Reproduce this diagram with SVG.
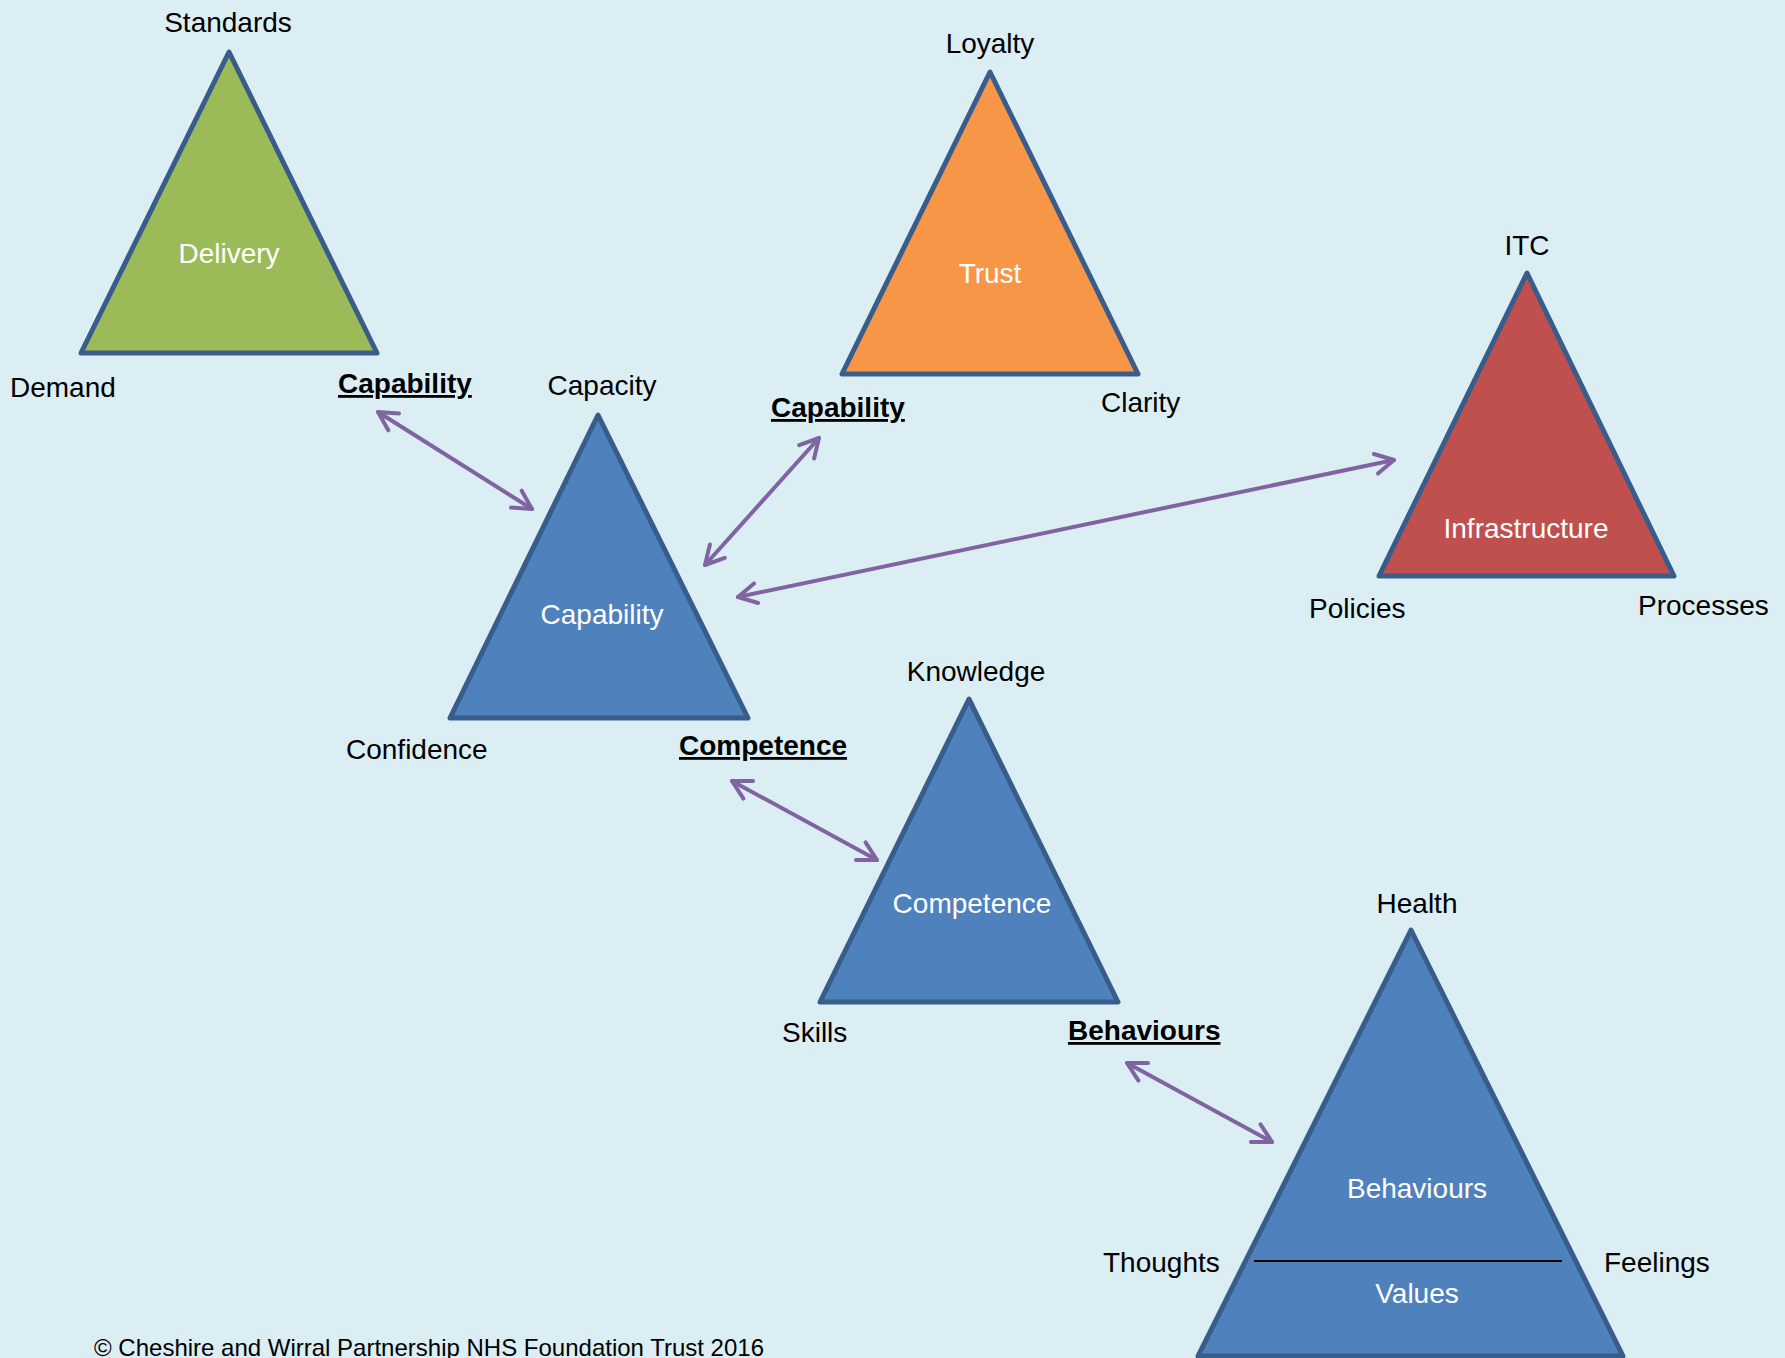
<svg xmlns="http://www.w3.org/2000/svg" width="1785" height="1358" viewBox="0 0 1785 1358">
  <defs>
    <style>
      .bg { fill: #dbeef4; }
      .tri { stroke: #385d8a; stroke-width: 5; stroke-linejoin: round; }
      .green { fill: #9bbb59; }
      .orange { fill: #f79646; }
      .red { fill: #c0504d; }
      .blue { fill: #4f81bd; }
      text { font-family: "Liberation Sans", Arial, sans-serif; font-size: 28px; fill: #000000; }
      .inner { fill: #ffffff; text-anchor: middle; }
      .top { text-anchor: middle; }
      .link { font-weight: bold; text-decoration: underline; }
      .copy { font-size: 24px; }
      .conn { fill: none; stroke: #8064a2; stroke-width: 4; stroke-linecap: round; }
      .divider { stroke: #000000; stroke-width: 2; }
    </style>
    <marker id="head" markerUnits="userSpaceOnUse" markerWidth="40" markerHeight="40" refX="0" refY="0" orient="auto-start-reverse" overflow="visible">
      <path d="M -18.5 -10 L 0 0 L -18.5 10" fill="none" stroke="#8064a2" stroke-width="4" stroke-linecap="round" stroke-linejoin="round"/>
    </marker>
  </defs>

  <rect class="bg" x="0" y="0" width="1785" height="1358"/>

  <!-- Delivery -->
  <g id="delivery">
    <polygon class="tri green" points="229,52 377,353 81,353"/>
    <text class="inner" x="229" y="263">Delivery</text>
    <text class="top" x="228" y="32">Standards</text>
    <text x="10" y="397">Demand</text>
    <text class="link" x="338" y="393">Capability</text>
  </g>

  <!-- Trust -->
  <g id="trust">
    <polygon class="tri orange" points="990,72 1138,374 842,374"/>
    <text class="inner" x="990" y="283">Trust</text>
    <text class="top" x="990" y="53">Loyalty</text>
    <text class="link" x="771" y="417">Capability</text>
    <text x="1101" y="412">Clarity</text>
  </g>

  <!-- Infrastructure -->
  <g id="infrastructure">
    <polygon class="tri red" points="1527,273 1674,576 1379,576"/>
    <text class="inner" x="1526" y="538">Infrastructure</text>
    <text class="top" x="1527" y="255">ITC</text>
    <text x="1309" y="618">Policies</text>
    <text x="1638" y="615">Processes</text>
  </g>

  <!-- Capability -->
  <g id="capability">
    <polygon class="tri blue" points="598,415 748,718 450,718"/>
    <text class="inner" x="602" y="624">Capability</text>
    <text class="top" x="602" y="395">Capacity</text>
    <text x="346" y="759">Confidence</text>
    <text class="link" x="679" y="755">Competence</text>
  </g>

  <!-- Competence -->
  <g id="competence">
    <polygon class="tri blue" points="969,699 1118,1002 820,1002"/>
    <text class="inner" x="972" y="913">Competence</text>
    <text class="top" x="976" y="681">Knowledge</text>
    <text x="782" y="1042">Skills</text>
    <text class="link" x="1068" y="1040">Behaviours</text>
  </g>

  <!-- Behaviours / Values -->
  <g id="behaviours">
    <polygon class="tri blue" points="1411,930 1623,1356 1198,1356"/>
    <line class="divider" x1="1254" y1="1261" x2="1562" y2="1261"/>
    <text class="inner" x="1417" y="1198">Behaviours</text>
    <text class="inner" x="1417" y="1303">Values</text>
    <text class="top" x="1417" y="913">Health</text>
    <text x="1103" y="1272">Thoughts</text>
    <text x="1604" y="1272">Feelings</text>
  </g>

  <!-- Two-way links between the triangles -->
  <g id="connectors">
    <line class="conn" x1="378" y1="412" x2="532" y2="509" marker-start="url(#head)" marker-end="url(#head)"/>
    <line class="conn" x1="705" y1="565" x2="819" y2="438" marker-start="url(#head)" marker-end="url(#head)"/>
    <line class="conn" x1="738" y1="597" x2="1394" y2="460" marker-start="url(#head)" marker-end="url(#head)"/>
    <line class="conn" x1="732" y1="781" x2="877" y2="860" marker-start="url(#head)" marker-end="url(#head)"/>
    <line class="conn" x1="1127" y1="1063" x2="1272" y2="1142" marker-start="url(#head)" marker-end="url(#head)"/>
  </g>

  <text class="copy" x="94" y="1356">© Cheshire and Wirral Partnership NHS Foundation Trust 2016</text>
</svg>
